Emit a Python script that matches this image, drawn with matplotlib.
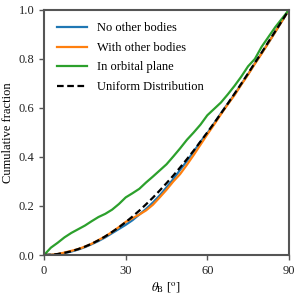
import matplotlib
matplotlib.use("Agg")
import matplotlib.pyplot as plt

plt.rcParams["font.family"] = ["Liberation Serif", "DejaVu Serif"]
plt.rcParams["mathtext.fontset"] = "stix"

theta = [0, 2.5, 5, 7.5, 10, 12.5, 15, 17.5, 20, 22.5, 25, 27.5, 30, 32.5,
         35, 37.5, 40, 42.5, 45, 47.5, 50, 52.5, 55, 57.5, 60, 62.5, 65,
         67.5, 70, 72.5, 75, 77.5, 80, 82.5, 85, 87.5, 90]

no_other = [0, 0.001, 0.003, 0.008, 0.014, 0.022, 0.032, 0.044, 0.057,
            0.072, 0.089, 0.106, 0.123, 0.142, 0.165, 0.188, 0.214, 0.243,
            0.276, 0.310, 0.347, 0.383, 0.422, 0.462, 0.497, 0.537, 0.578,
            0.617, 0.655, 0.697, 0.738, 0.782, 0.824, 0.866, 0.911, 0.955, 1.0]

with_other = [0, 0.001, 0.004, 0.010, 0.017, 0.024, 0.034, 0.046, 0.061,
              0.076, 0.094, 0.114, 0.135, 0.150, 0.165, 0.182, 0.205, 0.235,
              0.266, 0.300, 0.330, 0.368, 0.408, 0.450, 0.492, 0.532, 0.574,
              0.614, 0.652, 0.695, 0.736, 0.780, 0.822, 0.866, 0.910, 0.955, 1.0]

orbital_plane = [0, 0.030, 0.050, 0.072, 0.090, 0.105, 0.120, 0.138, 0.155,
                 0.168, 0.185, 0.208, 0.235, 0.252, 0.270, 0.296, 0.320,
                 0.345, 0.370, 0.402, 0.435, 0.470, 0.500, 0.532, 0.570,
                 0.596, 0.622, 0.655, 0.690, 0.728, 0.770, 0.800, 0.850,
                 0.890, 0.930, 0.965, 1.0]

uniform = [0, 0.001, 0.004, 0.009, 0.015, 0.024, 0.034, 0.046, 0.060, 0.076,
           0.094, 0.113, 0.134, 0.157, 0.181, 0.207, 0.234, 0.263, 0.293,
           0.324, 0.357, 0.391, 0.426, 0.463, 0.500, 0.538, 0.577, 0.617,
           0.658, 0.699, 0.741, 0.784, 0.826, 0.870, 0.913, 0.956, 1.0]

fig = plt.figure(figsize=(3, 3), dpi=100)
ax = fig.add_axes([0.147, 0.15, 0.816, 0.817])

ax.plot(theta, no_other, color="#1f77b4", lw=1.6, label="No other bodies")
ax.plot(theta, with_other, color="#ff7f0e", lw=1.6, label="With other bodies")
ax.plot(theta, orbital_plane, color="#2ca02c", lw=1.6, label="In orbital plane")
ax.plot(theta, uniform, color="black", lw=1.6, ls=(0, (3, 1.6)),
        label="Uniform Distribution")

ax.set_xlim(0, 90)
ax.set_ylim(0, 1)
ax.set_xticks([0, 30, 60, 90])
ax.set_yticks([0, 0.2, 0.4, 0.6, 0.8, 1.0])
ax.set_xlabel(r"$\theta_\mathrm{B}$ [$^\mathrm{o}$]", fontsize=9, labelpad=3)
ax.set_ylabel("Cumulative fraction", fontsize=9, labelpad=3)

for s in ax.spines.values():
    s.set_color("#555555")
    s.set_linewidth(1.5)
ax.tick_params(colors="#222222", labelsize=9, length=3.5, width=1.0)
ax.tick_params(axis="both", color="#555555")

ax.legend(loc="upper left", frameon=False, fontsize=9, handlelength=2.4,
          borderaxespad=0.6, labelspacing=0.6, handletextpad=0.8)

fig.savefig("out.png", dpi=100)
